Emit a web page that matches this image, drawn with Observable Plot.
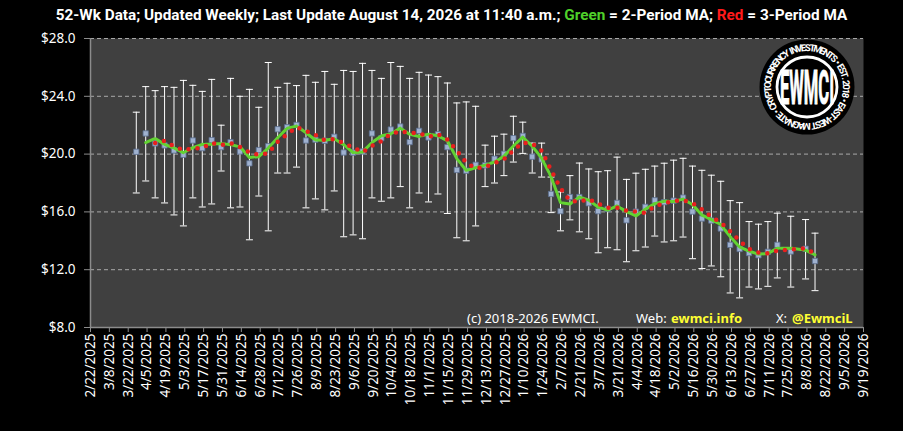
<!DOCTYPE html>
<html>
<head>
<meta charset="utf-8">
<script src="https://cdn.jsdelivr.net/npm/d3@7"></script>
<script src="https://cdn.jsdelivr.net/npm/@observablehq/plot@0.6"></script>
<style>
  html, body { margin: 0; padding: 0; background: #000; }
  #title { height: 30px; line-height: 30px; text-align: center; color: #fff;
    font-family: Roboto, "Noto Sans", sans-serif; font-weight: bold; font-size: 15.3px; white-space: nowrap; }
  #title .g { color: #4fd12a; }
  #title .r { color: #ff1a1a; }
  #chart svg { display: block; }
</style>
</head>
<body>
<div id="title">52-Wk Data; Updated Weekly; Last Update August 14, 2026 at 11:40 a.m.; <span class="g">Green</span> = 2-Period MA; <span class="r">Red</span> = 3-Period MA</div>
<div id="chart"></div>
<script>
const dates = [
  "2025-03-28","2025-04-04","2025-04-11","2025-04-18","2025-04-25","2025-05-02","2025-05-09","2025-05-16",
  "2025-05-23","2025-05-30","2025-06-06","2025-06-13","2025-06-20","2025-06-27","2025-07-04","2025-07-11",
  "2025-07-18","2025-07-25","2025-08-01","2025-08-08","2025-08-15","2025-08-22","2025-08-29","2025-09-05",
  "2025-09-12","2025-09-19","2025-09-26","2025-10-03","2025-10-10","2025-10-17","2025-10-24","2025-10-31",
  "2025-11-07","2025-11-14","2025-11-21","2025-11-28","2025-12-05","2025-12-12","2025-12-19","2025-12-26",
  "2026-01-02","2026-01-09","2026-01-16","2026-01-23","2026-01-30","2026-02-06","2026-02-13","2026-02-20",
  "2026-02-27","2026-03-06","2026-03-13","2026-03-20","2026-03-27","2026-04-03","2026-04-10","2026-04-17",
  "2026-04-24","2026-05-01","2026-05-08","2026-05-15","2026-05-22","2026-05-29","2026-06-05","2026-06-12",
  "2026-06-19","2026-06-26","2026-07-03","2026-07-10","2026-07-17","2026-07-27","2026-08-07","2026-08-14"
];
const closeValues = [
  20.16,21.43,20.74,20.60,20.25,19.95,20.94,20.41,20.97,20.48,20.83,20.18,19.36,20.28,20.55,21.72,
  21.86,22.02,20.94,21.00,20.92,21.20,20.11,20.10,20.18,21.43,21.10,21.70,21.91,20.83,21.61,21.15,
  21.38,20.48,18.90,18.85,19.26,19.22,19.68,20.02,21.10,21.26,19.82,19.63,17.24,16.05,17.03,17.03,
  16.60,16.05,16.20,16.62,15.42,16.02,16.35,16.80,16.67,16.78,16.99,16.02,15.54,15.40,14.85,13.72,
  13.43,13.15,13.00,13.24,13.72,13.26,13.45,12.60
];
const highValues = [
  22.90,24.67,24.39,24.67,24.62,25.10,24.76,24.34,25.17,22.00,25.24,24.00,24.48,23.24,26.34,24.62,
  24.90,24.74,25.45,24.97,25.72,24.83,25.79,25.72,26.28,25.79,25.24,26.34,26.07,25.24,25.66,25.47,
  25.36,24.92,23.54,23.61,23.31,20.62,21.24,21.38,22.62,22.21,20.76,20.76,18.41,17.38,18.51,19.38,
  18.97,18.78,18.85,19.79,18.25,18.68,18.95,19.17,19.37,19.58,19.71,19.17,18.88,18.54,18.12,16.78,
  16.64,15.33,15.15,15.33,15.91,15.70,15.47,14.53
];
const lowValues = [
  17.31,18.14,16.97,16.62,15.79,15.03,16.97,16.34,16.55,18.83,16.28,16.34,14.07,17.10,14.69,18.69,
  18.69,19.10,16.28,16.90,16.14,17.45,14.28,14.41,14.14,16.97,16.74,16.97,17.75,16.28,17.31,16.69,
  17.24,15.89,14.21,14.00,15.03,17.75,18.00,18.51,19.45,20.05,18.69,18.41,15.95,14.69,15.45,14.62,
  14.14,13.17,13.52,13.38,12.55,13.31,13.57,14.33,13.92,14.00,14.26,12.76,12.08,12.26,11.51,10.39,
  10.05,10.80,10.67,10.85,11.43,10.80,11.36,10.55
];
const tickLabels = [
  "2/22/2025","3/8/2025","3/22/2025","4/5/2025","4/19/2025","5/3/2025","5/17/2025","5/31/2025",
  "6/14/2025","6/28/2025","7/12/2025","7/26/2025","8/9/2025","8/23/2025","9/6/2025","9/20/2025",
  "10/4/2025","10/18/2025","11/1/2025","11/15/2025","11/29/2025","12/13/2025","12/27/2025","1/10/2026",
  "1/24/2026","2/7/2026","2/21/2026","3/7/2026","3/21/2026","4/4/2026","4/18/2026","5/2/2026",
  "5/16/2026","5/30/2026","6/13/2026","6/27/2026","7/11/2026","7/25/2026","8/8/2026","8/22/2026",
  "9/5/2026","9/19/2026"
];
const yTicks = [8, 12, 16, 20, 24, 28];

const parseTick = d3.utcParse("%m/%d/%Y");
const tickDates = tickLabels.map(parseTick);
const data = dates.map((d, i) => ({
  date: new Date(d + "T00:00:00Z"),
  close: closeValues[i], high: highValues[i], low: lowValues[i]
}));

const capSymbol = {
  draw(ctx, size) {
    const w = Math.sqrt(size / Math.PI);
    ctx.moveTo(-w, 0);
    ctx.lineTo(w, 0);
  }
};

const chart = Plot.plot({
  width: 903,
  height: 401,
  marginLeft: 90,
  marginRight: 40,
  marginTop: 8,
  marginBottom: 104,
  style: { background: "#000", color: "#fff", fontFamily: "'Noto Sans', sans-serif", fontSize: "13px" },
  x: { type: "utc", domain: [tickDates[0], tickDates[tickDates.length - 1]] },
  y: { domain: [8, 28] },
  marks: [
    Plot.frame({ fill: "#404040", stroke: "none" }),
    Plot.gridY(yTicks.slice(1), { stroke: "#a8a8a8", strokeOpacity: 1, strokeWidth: 1, strokeDasharray: "4,3" }),
    Plot.ruleX([tickDates[0]], { stroke: "#8c8c8c", strokeWidth: 1.5 }),
    Plot.ruleY([8], { stroke: "#8c8c8c", strokeWidth: 1.5 }),
    Plot.axisY(yTicks, { tickFormat: d => "$" + d.toFixed(1), tickSize: 6, tickPadding: 9, stroke: "#8c8c8c", fill: "#fff", fontSize: 13.5, label: null }),
    Plot.axisX(tickDates, { tickFormat: d3.utcFormat("%-m/%-d/%Y"), tickRotate: -90, tickSize: 5, tickPadding: 1, stroke: "#8c8c8c", fill: "#fff", fontSize: 13.5, label: null }),
    Plot.ruleX(data, { x: "date", y1: "low", y2: "high", stroke: "#fff", strokeWidth: 1 }),
    Plot.dot(data, { x: "date", y: "high", symbol: capSymbol, r: 3.5, fill: "none", stroke: "#fff", strokeWidth: 1 }),
    Plot.dot(data, { x: "date", y: "low", symbol: capSymbol, r: 3.5, fill: "none", stroke: "#fff", strokeWidth: 1 }),
    Plot.dot(data, { x: "date", y: "close", symbol: "square", r: 3, fill: "#9fb1cf", stroke: "#5b6d8e", strokeWidth: 0.8 }),
    Plot.lineY(data, Plot.windowY({ k: 2, anchor: "end", strict: true }, { x: "date", y: "close", stroke: "#62d232", strokeWidth: 3, strokeDasharray: "9,2" })),
    Plot.lineY(data, Plot.windowY({ k: 3, anchor: "end", strict: true }, { x: "date", y: "close", stroke: "#e8201e", strokeWidth: 4.5, strokeDasharray: "0,9", strokeLinecap: "round" }))
  ]
});

document.getElementById("chart").appendChild(chart);

const svg = d3.select(chart);

// Copyright line
const cr = svg.append("text")
  .attr("y", 293)
  .attr("text-anchor", "start")
  .attr("font-family", "'Noto Sans', sans-serif")
  .attr("font-size", 13)
  .attr("fill", "#fff");
cr.append("tspan").attr("x", 467).text("(c) 2018-2026 EWMCI.");
cr.append("tspan").attr("x", 636).text("Web:");
cr.append("tspan").attr("x", 671).attr("font-weight", "bold").attr("fill", "#ffff33").text("ewmci.info");
cr.append("tspan").attr("x", 776).text("X:");
cr.append("tspan").attr("x", 792).attr("font-weight", "bold").attr("fill", "#ffff33").text("@EwmciL");

// Logo
const cx = 807, cy = 57, R = 47.5, rt = 36;
const logo = svg.append("g");
logo.append("circle").attr("cx", cx).attr("cy", cy).attr("r", R).attr("fill", "#000");
const ringText = "CRYPTOCURRENCY INVESTMENTS • EST. 2018 • EAST-WEST MAGNATE • ";
const ringFont = { family: "Roboto, 'Noto Sans', sans-serif", size: 9.6 };
const probe = logo.append("text").attr("font-family", ringFont.family).attr("font-weight", "bold")
  .attr("font-size", ringFont.size).attr("opacity", 0);
const widths = Array.from(ringText).map(ch => {
  probe.text(ch === " " ? "\u00a0" : ch);
  return probe.node().getComputedTextLength();
});
probe.remove();
const total = d3.sum(widths);
const a0 = 236;
let acc = 0;
Array.from(ringText).forEach((ch, i) => {
  const mid = acc + widths[i] / 2;
  acc += widths[i];
  if (ch === " ") return;
  const ang = a0 + mid / total * 360;
  const t = ang * Math.PI / 180;
  const x = cx + rt * Math.sin(t), y = cy - rt * Math.cos(t);
  logo.append("text")
    .attr("transform", `translate(${x.toFixed(2)},${y.toFixed(2)}) rotate(${ang.toFixed(2)})`)
    .attr("text-anchor", "middle")
    .attr("font-family", ringFont.family).attr("font-weight", "bold").attr("font-size", ringFont.size)
    .attr("fill", "#fff")
    .text(ch);
});
logo.append("circle").attr("cx", cx).attr("cy", cy).attr("r", 30).attr("fill", "#000").attr("stroke", "#fff").attr("stroke-width", 2.8);
logo.append("text")
  .attr("transform", `translate(${cx},${cy}) scale(1,1.75)`)
  .attr("text-anchor", "middle").attr("dy", "0.36em")
  .attr("font-family", "Roboto, 'Noto Sans', sans-serif").attr("font-weight", "bold").attr("font-size", 27)
  .attr("textLength", 54).attr("lengthAdjust", "spacingAndGlyphs")
  .attr("fill", "#fff").attr("stroke", "#fff").attr("stroke-width", 0.6)
  .text("EWMCI");
</script>
</body>
</html>
